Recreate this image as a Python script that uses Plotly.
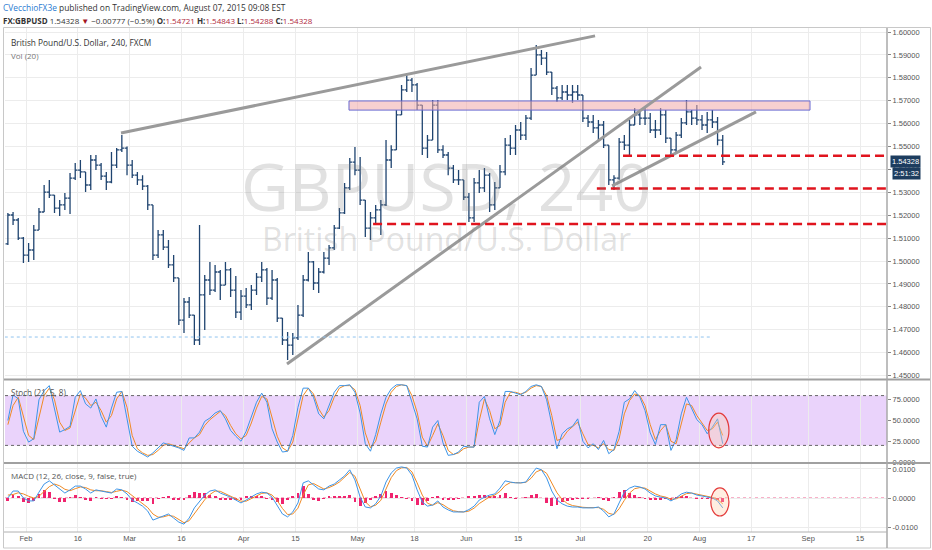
import plotly.graph_objects as go
import pandas as pd

# ---------------- data (daily summary of the 240-minute GBPUSD chart) ----------------
days = list(pd.bdate_range("2015-01-27", "2015-08-07").strftime("%Y-%m-%d"))
bar_pos = list(range(-4, 135))  # business-day index, Feb 2 2015 = 0

high = [1.5210, 1.5214, 1.5188, 1.5105, 1.5079, 1.5157, 1.5231, 1.5332, 1.5354, 1.5288,
        1.5266, 1.5297, 1.5384, 1.5428, 1.5441, 1.5389, 1.5463, 1.5463, 1.5428, 1.5389,
        1.5476, 1.5493, 1.5550, 1.5500, 1.5441, 1.5389, 1.5375, 1.5332, 1.5245, 1.5135,
        1.5135, 1.5092, 1.5026, 1.4926, 1.4838, 1.4843, 1.4764, 1.5157, 1.4939, 1.4996,
        1.4983, 1.4961, 1.4996, 1.4969, 1.4934, 1.4873, 1.4882, 1.4895, 1.4948, 1.4996,
        1.4970, 1.4961, 1.4926, 1.4751, 1.4690, 1.4686, 1.4808, 1.4939, 1.5039, 1.5000,
        1.4969, 1.5039, 1.5070, 1.5157, 1.5231, 1.5341, 1.5450, 1.5498, 1.5454, 1.5266,
        1.5214, 1.5245, 1.5266, 1.5528, 1.5506, 1.5659, 1.5769, 1.5821, 1.5799, 1.5777,
        1.5681, 1.5550, 1.5703, 1.5703, 1.5506, 1.5476, 1.5419, 1.5397, 1.5354, 1.5297,
        1.5362, 1.5397, 1.5406, 1.5384, 1.5345, 1.5419, 1.5537, 1.5550, 1.5594, 1.5607,
        1.5638, 1.5843, 1.5943, 1.5921, 1.5913, 1.5825, 1.5764, 1.5769, 1.5769, 1.5769,
        1.5769, 1.5725, 1.5638, 1.5638, 1.5616, 1.5611, 1.5506, 1.5375, 1.5537, 1.5550,
        1.5616, 1.5668, 1.5659, 1.5668, 1.5646, 1.5616, 1.5668, 1.5659, 1.5537, 1.5563,
        1.5624, 1.5703, 1.5659, 1.5681, 1.5638, 1.5651, 1.5659, 1.5629, 1.5550]
low = [1.5070, 1.5157, 1.5092, 1.4991, 1.4996, 1.5004, 1.5135, 1.5214, 1.5275, 1.5210,
       1.5197, 1.5223, 1.5205, 1.5354, 1.5362, 1.5301, 1.5310, 1.5397, 1.5354, 1.5310,
       1.5340, 1.5406, 1.5476, 1.5375, 1.5362, 1.5332, 1.5310, 1.5223, 1.5004, 1.5013,
       1.5048, 1.4969, 1.4908, 1.4721, 1.4686, 1.4751, 1.4633, 1.4633, 1.4699, 1.4852,
       1.4865, 1.4830, 1.4895, 1.4843, 1.4751, 1.4742, 1.4795, 1.4786, 1.4852, 1.4908,
       1.4808, 1.4830, 1.4734, 1.4633, 1.4568, 1.4590, 1.4655, 1.4755, 1.4910, 1.4873,
       1.4860, 1.4945, 1.4983, 1.5048, 1.5140, 1.5205, 1.5310, 1.5375, 1.5245, 1.5105,
       1.5092, 1.5157, 1.5114, 1.5240, 1.5406, 1.5485, 1.5638, 1.5738, 1.5738, 1.5659,
       1.5463, 1.5450, 1.5528, 1.5472, 1.5450, 1.5375, 1.5341, 1.5332, 1.5266, 1.5170,
       1.5170, 1.5297, 1.5301, 1.5214, 1.5223, 1.5319, 1.5375, 1.5463, 1.5463, 1.5528,
       1.5528, 1.5616, 1.5812, 1.5856, 1.5812, 1.5725, 1.5694, 1.5703, 1.5703, 1.5690,
       1.5703, 1.5607, 1.5585, 1.5559, 1.5528, 1.5493, 1.5332, 1.5310, 1.5355, 1.5485,
       1.5454, 1.5594, 1.5594, 1.5594, 1.5559, 1.5537, 1.5550, 1.5515, 1.5463, 1.5476,
       1.5537, 1.5594, 1.5594, 1.5594, 1.5572, 1.5559, 1.5581, 1.5506, 1.5419]
close = [1.5201, 1.5179, 1.5100, 1.5026, 1.5048, 1.5135, 1.5214, 1.5301, 1.5288, 1.5231,
         1.5245, 1.5275, 1.5362, 1.5397, 1.5389, 1.5332, 1.5441, 1.5419, 1.5371, 1.5345,
         1.5419, 1.5485, 1.5493, 1.5419, 1.5375, 1.5354, 1.5327, 1.5245, 1.5026, 1.5114,
         1.5061, 1.4983, 1.4926, 1.4742, 1.4821, 1.4764, 1.4655, 1.4852, 1.4917, 1.4873,
         1.4952, 1.4895, 1.4961, 1.4873, 1.4777, 1.4847, 1.4808, 1.4873, 1.4930, 1.4961,
         1.4838, 1.4917, 1.4751, 1.4655, 1.4633, 1.4664, 1.4764, 1.4917, 1.4996, 1.4904,
         1.4952, 1.5013, 1.5057, 1.5144, 1.5210, 1.5319, 1.5432, 1.5397, 1.5266, 1.5144,
         1.5188, 1.5223, 1.5245, 1.5441, 1.5485, 1.5638, 1.5747, 1.5790, 1.5769, 1.5681,
         1.5493, 1.5528, 1.5681, 1.5485, 1.5463, 1.5406, 1.5354, 1.5354, 1.5279, 1.5188,
         1.5341, 1.5319, 1.5375, 1.5245, 1.5319, 1.5389, 1.5506, 1.5493, 1.5572, 1.5550,
         1.5624, 1.5812, 1.5900, 1.5886, 1.5825, 1.5755, 1.5712, 1.5738, 1.5725, 1.5738,
         1.5725, 1.5624, 1.5607, 1.5581, 1.5594, 1.5506, 1.5354, 1.5362, 1.5519, 1.5506,
         1.5594, 1.5638, 1.5624, 1.5624, 1.5572, 1.5572, 1.5638, 1.5537, 1.5485, 1.5550,
         1.5603, 1.5651, 1.5624, 1.5616, 1.5594, 1.5616, 1.5607, 1.5528, 1.5433]
first_open = 1.5075
open_ = [first_open] + close[:-1]

stoch_k = [50, 81, 76, 37, 24, 28, 75, 86, 92, 64,
           36, 39, 43, 78, 86, 70, 65, 76, 55, 42,
           65, 84, 85, 52, 19, 13, 9, 6, 11, 17,
           23, 21, 19, 17, 14, 29, 29, 36, 49, 53,
           59, 62, 52, 38, 31, 25, 37, 55, 72, 83,
           72, 40, 24, 12, 13, 32, 66, 89, 89, 78,
           58, 52, 68, 84, 92, 92, 93, 84, 59, 22,
           13, 33, 58, 78, 88, 93, 93, 92, 72, 52,
           19, 18, 42, 50, 23, 8, 9, 12, 19, 18,
           18, 72, 79, 52, 33, 50, 85, 85, 83, 81,
           85, 91, 93, 91, 75, 45, 16, 34, 40, 43,
           52, 25, 17, 22, 15, 26, 10, 15, 37, 72,
           76, 86, 78, 62, 35, 21, 45, 45, 14, 27,
           58, 78, 64, 51, 45, 34, 42, 52, 22]
stoch_d = [45, 68, 78, 55, 32, 27, 55, 80, 89, 75,
           48, 38, 41, 62, 82, 77, 68, 72, 62, 48,
           56, 76, 85, 66, 32, 16, 11, 8, 9, 14,
           20, 22, 20, 18, 16, 23, 29, 33, 44, 51,
           56, 61, 56, 44, 34, 28, 32, 47, 65, 79,
           76, 53, 31, 17, 13, 24, 52, 80, 89, 82,
           64, 54, 62, 78, 89, 92, 92, 87, 68, 35,
           17, 25, 48, 70, 84, 91, 93, 92, 80, 60,
           30, 19, 32, 46, 32, 14, 9, 11, 16, 18,
           18, 50, 76, 62, 40, 44, 72, 84, 84, 82,
           84, 89, 92, 91, 80, 56, 26, 28, 37, 42,
           48, 34, 21, 20, 17, 22, 15, 14, 28, 58,
           74, 82, 80, 68, 45, 27, 38, 45, 25, 22,
           46, 70, 68, 56, 47, 38, 40, 48, 32]

# MACD values in units of 0.001
macd_line = [0, 2.4, 2.4, 0, -1, -1, 2, 4.8, 5.9, 4.5,
             2.8, 1.7, 2.8, 4.1, 4.1, 3.1, 1.7, 2.8, 2.4, 2,
             1.7, 3.1, 2.8, 1.4, -0.7, -1.7, -2.8, -4.5, -7.6, -6.9,
             -6.2, -5.5, -6.9, -8.3, -9, -6.9, -3.4, -1, 1, 2.4,
             2.8, 1.7, 1, 0.3, -0.7, -1.7, -0.7, 0.3, 1.4, 2,
             1.7, 0.3, -2.4, -5.5, -6.5, -4.8, -1.7, 5.2, 5.9, 4.5,
             3.1, 2.8, 4.1, 4.8, 6.2, 7.6, 9.7, 6.2, 0.3, -3.1,
             -3.4, -2, 0.7, 5.5, 8.6, 10.3, 10.7, 10.3, 7.9, 2.8,
             -1.4, -2.8, -2.4, -1, -3.1, -4.1, -4.8, -4.8, -4.8, -4,
             -2.8, -0.7, 0.3, 1, 1.4, 3.4, 5.9, 5.5, 5.2, 5.2,
             5.5, 8, 10.3, 9.7, 6.9, 2.4, -0.7, -2, -2.8, -3.1,
             -3.1, -3.4, -3.4, -3.4, -3.1, -4.5, -6.5, -5.5, -1.7, 2,
             3.4, 4.1, 3.8, 3.1, 1.7, 0.7, 0.3, 0, -1, 0,
             1.4, 2, 1.7, 1, 0.7, 0.3, 0, -1, -3.4]
macd_signal = [1, 1.2, 1.8, 1.4, 0.6, 0, 0.6, 2.2, 3.9, 4.8,
               4.2, 3, 2.5, 3.2, 3.8, 3.6, 2.8, 2.5, 2.5, 2.2,
               1.9, 2.3, 2.7, 2.2, 0.8, -0.6, -1.9, -3.3, -5.5, -6.6,
               -6.5, -6, -6.3, -7.5, -8.5, -7.8, -5.5, -2.8, -0.6, 1.2,
               2.4, 2.3, 1.5, 0.7, -0.1, -1.1, -1.1, -0.3, 0.7, 1.6,
               1.8, 1, -0.9, -3.6, -5.7, -5.5, -3.5, 1, 4.5, 5,
               4, 3.1, 3.6, 4.4, 5.5, 7, 8.8, 7.5, 3, -1.3,
               -3, -2.5, -0.8, 3.2, 7, 9.4, 10.4, 10.5, 9, 5.2,
               1, -1.8, -2.5, -1.6, -2.3, -3.5, -4.4, -4.7, -4.8, -4.5,
               -3.5, -1.9, -0.6, 0.4, 1, 2.3, 4.3, 5.3, 5.3, 5.2,
               5.4, 6.8, 9, 9.7, 8.5, 5.3, 1.8, -0.5, -1.9, -2.6,
               -3, -3.2, -3.3, -3.4, -3.3, -3.9, -5.3, -5.7, -3.7, -0.8,
               1.7, 3.2, 3.6, 3.4, 2.4, 1.4, 0.7, 0.3, -0.4, -0.3,
               0.6, 1.5, 1.7, 1.3, 0.9, 0.5, 0.2, -0.5, -2]
macd_hist = [-1, 1.2, 0.6, -1.4, -1.6, -1, 1.4, 2.6, 2, -0.3,
             -1.4, -1.3, 0.3, 0.9, 0.3, -0.5, -1.1, 0.3, -0.1, -0.2,
             -0.2, 0.8, 0.1, -0.8, -1.5, -1.1, -0.9, -1.2, -2.1, -0.3,
             0.3, 0.5, -0.6, -0.8, -0.5, 0.9, 2.1, 1.8, 1.6, 1.2,
             0.4, -0.6, -0.5, -0.4, -0.6, -0.6, 0.4, 0.6, 0.7, 0.4,
             -0.1, -0.7, -1.5, -1.9, -0.8, 0.7, 1.8, 4.2, 1.4, -0.5,
             -0.9, -0.3, 0.5, 0.4, 0.7, 0.6, 0.9, -1.3, -2.7, -1.8,
             -0.4, 0.5, 1.5, 2.3, 1.6, 0.9, 0.3, -0.2, -1.1, -2.4,
             -2.4, -1, 0.1, 0.6, -0.8, -0.6, -0.4, -0.1, 0, 0.5,
             0.7, 1.2, 0.9, 0.6, 0.4, 1.1, 1.6, 0.2, -0.1, 0,
             0.1, 1.2, 1.3, 0, -1.6, -2.9, -2.5, -1.5, -0.9, -0.5,
             -0.1, -0.2, -0.1, 0, 0.2, -0.6, -1.2, 0.2, 2, 2.8,
             1.7, 0.9, 0.2, -0.3, -0.7, -0.7, -0.4, -0.3, -0.6, 0.3,
             0.8, 0.5, 0, -0.3, -0.2, -0.2, -0.2, -0.5, -1.4]
macd_scale = 0.001

# axis ticks
tick_days = [0, 10, 20, 30, 42, 52, 64, 75, 85, 95, 107, 120, 130, 140, 151, 161]
tick_text = ["Feb", "16", "Mar", "16", "Apr", "15", "May", "18", "Jun", "15",
             "Jul", "20", "Aug", "17", "Sep", "15"]
price_ticks = [1.45, 1.46, 1.47, 1.48, 1.49, 1.50, 1.51, 1.52, 1.53, 1.54,
               1.55, 1.56, 1.57, 1.58, 1.59, 1.60]
stoch_ticks = [0, 25, 50, 75, 100]
macd_ticks = [-0.01, 0.0, 0.01]
macd_tick_text = ["-0.0100", "0.0000", "0.0100"]

# drawings (bar index, price)
trend_lines = [((17.84, 1.5559), (109.35, 1.5983)),
               ((49.88, 1.4550), (129.81, 1.5847)),
               ((112.63, 1.5328), (140.42, 1.5651))]
zone = (61.85, 150.85, 1.5659, 1.5699)
red_levels = [(114.75, 1.5460), (109.7, 1.5317), (66.5, 1.5162)]
prev_line = (-4.6, 131.5, 1.4668)
last_price = 1.54328

X0, X1 = -4.556, 165.71
tickpos = [d - 0.5 for d in tick_days]

# ---------------- figure ----------------
fig = go.Figure()
navy = "#1f4470"
fig.add_trace(go.Ohlc(
    x=bar_pos, open=open_, high=high, low=low, close=close, text=days,
    xaxis="x", yaxis="y", tickwidth=0.45,
    increasing=dict(line=dict(color=navy, width=1.3)),
    decreasing=dict(line=dict(color=navy, width=1.3)),
    showlegend=False, hoverinfo="text+y"))

blue = "#3d95e8"
orange = "#f08a24"
fig.add_trace(go.Scatter(x=bar_pos, y=stoch_d, mode="lines", line=dict(color=orange, width=1),
                         xaxis="x2", yaxis="y2", showlegend=False))
fig.add_trace(go.Scatter(x=bar_pos, y=stoch_k, mode="lines", line=dict(color=blue, width=1),
                         xaxis="x2", yaxis="y2", showlegend=False))

fig.add_trace(go.Bar(x=bar_pos, y=[v * macd_scale for v in macd_hist], width=0.55,
                     marker=dict(color="#f0236e", line=dict(width=0)),
                     xaxis="x3", yaxis="y3", showlegend=False))
fig.add_trace(go.Scatter(x=bar_pos, y=[v * macd_scale for v in macd_signal], mode="lines",
                         line=dict(color=orange, width=1), xaxis="x3", yaxis="y3", showlegend=False))
fig.add_trace(go.Scatter(x=bar_pos, y=[v * macd_scale for v in macd_line], mode="lines",
                         line=dict(color=blue, width=1), xaxis="x3", yaxis="y3", showlegend=False))

axfont = dict(family="Liberation Sans, Arial", size=7.5, color="#555")
grid = "#ececec"
xcommon = dict(range=[X0, X1], tickvals=tickpos, showgrid=True, gridcolor=grid, gridwidth=1,
               zeroline=False, fixedrange=True)
shapes = []
# stoch band
shapes.append(dict(type="rect", xref="x2", yref="y2", x0=X0, x1=X1, y0=20, y1=80,
                   fillcolor="rgba(205,150,245,0.42)", line=dict(width=0), layer="below"))
for lv in (20, 80):
    shapes.append(dict(type="line", xref="x2", yref="y2", x0=X0, x1=X1, y0=lv, y1=lv,
                       line=dict(color="#666", width=1, dash="dot")))
# MACD zero line (dotted pink)
shapes.append(dict(type="line", xref="x3", yref="y3", x0=X0, x1=X1, y0=0, y1=0,
                   line=dict(color="#f06090", width=1, dash="dot"), layer="below"))
# zone rectangle
shapes.append(dict(type="rect", xref="x", yref="y", x0=zone[0], x1=zone[1], y0=zone[2], y1=zone[3],
                   fillcolor="rgba(240,170,170,0.55)", line=dict(color="#6a6ad0", width=1)))
# trend lines
for (a, b) in trend_lines:
    shapes.append(dict(type="line", xref="x", yref="y", x0=a[0], y0=a[1], x1=b[0], y1=b[1],
                       line=dict(color="#9a9a9a", width=3)))
# red dashed levels
for (xs, lv) in red_levels:
    shapes.append(dict(type="line", xref="x", yref="y", x0=xs, x1=X1, y0=lv, y1=lv,
                       line=dict(color="#e0141e", width=2.5, dash="9px,5px")))
# light blue dotted line
shapes.append(dict(type="line", xref="x", yref="y", x0=prev_line[0], x1=prev_line[1],
                   y0=prev_line[2], y1=prev_line[2], line=dict(color="#8fc3ef", width=1, dash="dot")))
# ellipses
shapes.append(dict(type="circle", xref="x2", yref="y2", x0=131.3, x1=135.2, y0=17, y1=59,
                   fillcolor="rgba(255,205,170,0.35)", line=dict(color="#e33a3a", width=1.2)))
shapes.append(dict(type="circle", xref="x3", yref="y3", x0=131.7, x1=135.2, y0=-0.0062, y1=0.0035,
                   fillcolor="rgba(255,205,170,0.35)", line=dict(color="#e33a3a", width=1.2)))


def py(px):  # pixel row -> paper y
    return (532 - px) / 504


def pxx(px):  # pixel column -> paper x
    return (px - 5) / 882


# pane separators and frame
for yy in (379.5, 463):
    shapes.append(dict(type="line", xref="paper", yref="paper", x0=pxx(4), x1=pxx(931),
                       y0=py(yy), y1=py(yy), line=dict(color="#a0a0a0", width=2)))
shapes.append(dict(type="rect", xref="paper", yref="paper", x0=pxx(3.5), x1=pxx(930.5),
                   y0=py(548), y1=py(27.5), line=dict(color="#c8c8c8", width=1)))
shapes.append(dict(type="line", xref="paper", yref="paper", x0=pxx(887), x1=pxx(887),
                   y0=py(548), y1=py(28), line=dict(color="#a8a8a8", width=1.5)))
shapes.append(dict(type="line", xref="paper", yref="paper", x0=pxx(4), x1=pxx(887),
                   y0=py(532), y1=py(532), line=dict(color="#b0b0b0", width=1)))

red = "#b0283c"
header2 = ('<b>FX:GBPUSD</b> 1.54328 <span style="color:#a3141e">\u25bc</span> \u22120.00777 (\u22120.5%) '
           + '<b>O:</b><span style="color:' + red + '">1.54721</span> '
           + '<b>H:</b><span style="color:' + red + '">1.54843</span> '
           + '<b>L:</b><span style="color:' + red + '">1.54288</span> '
           + '<b>C:</b><span style="color:' + red + '">1.54328</span>')
wm = "rgba(130,130,130,0.24)"
annotations = [
    dict(xref="paper", yref="paper", x=pxx(1), y=py(7.5), xanchor="left", yanchor="middle",
         showarrow=False, align="left",
         text='<span style="color:#2a7bd1">CVecchioFX3e</span> published on TradingView.com, August 07, 2015 09:08 EST',
         font=dict(family="Open Sans", size=8.4, color="#333")),
    dict(xref="paper", yref="paper", x=pxx(1), y=py(20), xanchor="left", yanchor="middle",
         showarrow=False, align="left", text=header2,
         font=dict(family="Open Sans", size=8.0, color="#333")),
    dict(xref="paper", yref="paper", x=0.5, y=py(138), showarrow=False, text="GBPUSD, 240",
         font=dict(family="Open Sans", size=66, color=wm)),
    dict(xref="paper", yref="paper", x=0.5, y=py(239), showarrow=False, text="British Pound/U.S. Dollar",
         font=dict(family="Open Sans", size=32, color=wm)),
    dict(xref="paper", yref="paper", x=pxx(9), y=py(42), xanchor="left", yanchor="middle", showarrow=False,
         text="British Pound/U.S. Dollar, 240, FXCM", font=dict(family="Open Sans", size=8.3, color="#333")),
    dict(xref="paper", yref="paper", x=pxx(9), y=py(55), xanchor="left", yanchor="middle", showarrow=False,
         text="Vol (20)", font=dict(family="Open Sans", size=8.0, color="#777")),
    dict(xref="paper", yref="paper", x=pxx(9), y=py(392), xanchor="left", yanchor="middle", showarrow=False,
         text="Stoch (21, 5, 8)", font=dict(family="Open Sans", size=8.1, color="#555")),
    dict(xref="paper", yref="paper", x=pxx(9), y=py(475), xanchor="left", yanchor="middle", showarrow=False,
         text="MACD (12, 26, close, 9, false, true)", font=dict(family="Open Sans", size=8.0, color="#555")),
    dict(xref="paper", yref="y", x=1, y=last_price, xanchor="left", yanchor="middle", xshift=3,
         showarrow=False, text="1.54328", bgcolor="#1d3d5f", borderpad=1,
         font=dict(family="Liberation Sans, Arial", size=7.5, color="white")),
    dict(xref="paper", yref="y", x=1, y=last_price, xanchor="left", yanchor="middle", xshift=5, yshift=-12,
         showarrow=False, text="2:51:32", bgcolor="#1d3d5f", borderpad=1,
         font=dict(family="Liberation Sans, Arial", size=7.5, color="white")),
]

fig.update_layout(
    width=932, height=550,
    margin=dict(l=5, r=45, t=28, b=18),
    paper_bgcolor="white", plot_bgcolor="white",
    showlegend=False, bargap=0,
    xaxis=dict(anchor="y", matches="x3", showticklabels=False, rangeslider=dict(visible=False), **xcommon),
    xaxis2=dict(anchor="y2", matches="x3", showticklabels=False, **xcommon),
    xaxis3=dict(anchor="y3", ticktext=tick_text, tickfont=axfont, ticks="", showline=False, **xcommon),
    yaxis=dict(domain=[py(378), 1.0], anchor="x", side="right", range=[1.44891, 1.60175],
               tickvals=price_ticks, tickformat=".5f", tickfont=axfont, ticks="outside", ticklen=3,
               tickcolor="#888", showgrid=True, gridcolor=grid, zeroline=False, fixedrange=True),
    yaxis2=dict(domain=[py(462), py(380)], anchor="x2", side="right", range=[0, 98.8],
                tickvals=stoch_ticks, tickformat=".4f", tickfont=axfont, ticks="outside", ticklen=3,
                tickcolor="#888", showgrid=False, zeroline=False, fixedrange=True),
    yaxis3=dict(domain=[0, py(464)], anchor="x3", side="right", range=[-0.0117, 0.0117],
                tickvals=macd_ticks, ticktext=macd_tick_text, tickfont=axfont, ticks="outside", ticklen=3,
                tickcolor="#888", showgrid=True, gridcolor=grid, zeroline=False, fixedrange=True),
    shapes=shapes, annotations=annotations,
)

fig.write_html("out.html", config={"displayModeBar": False},
               post_script="document.body.style.margin='0';document.body.style.padding='0';")
